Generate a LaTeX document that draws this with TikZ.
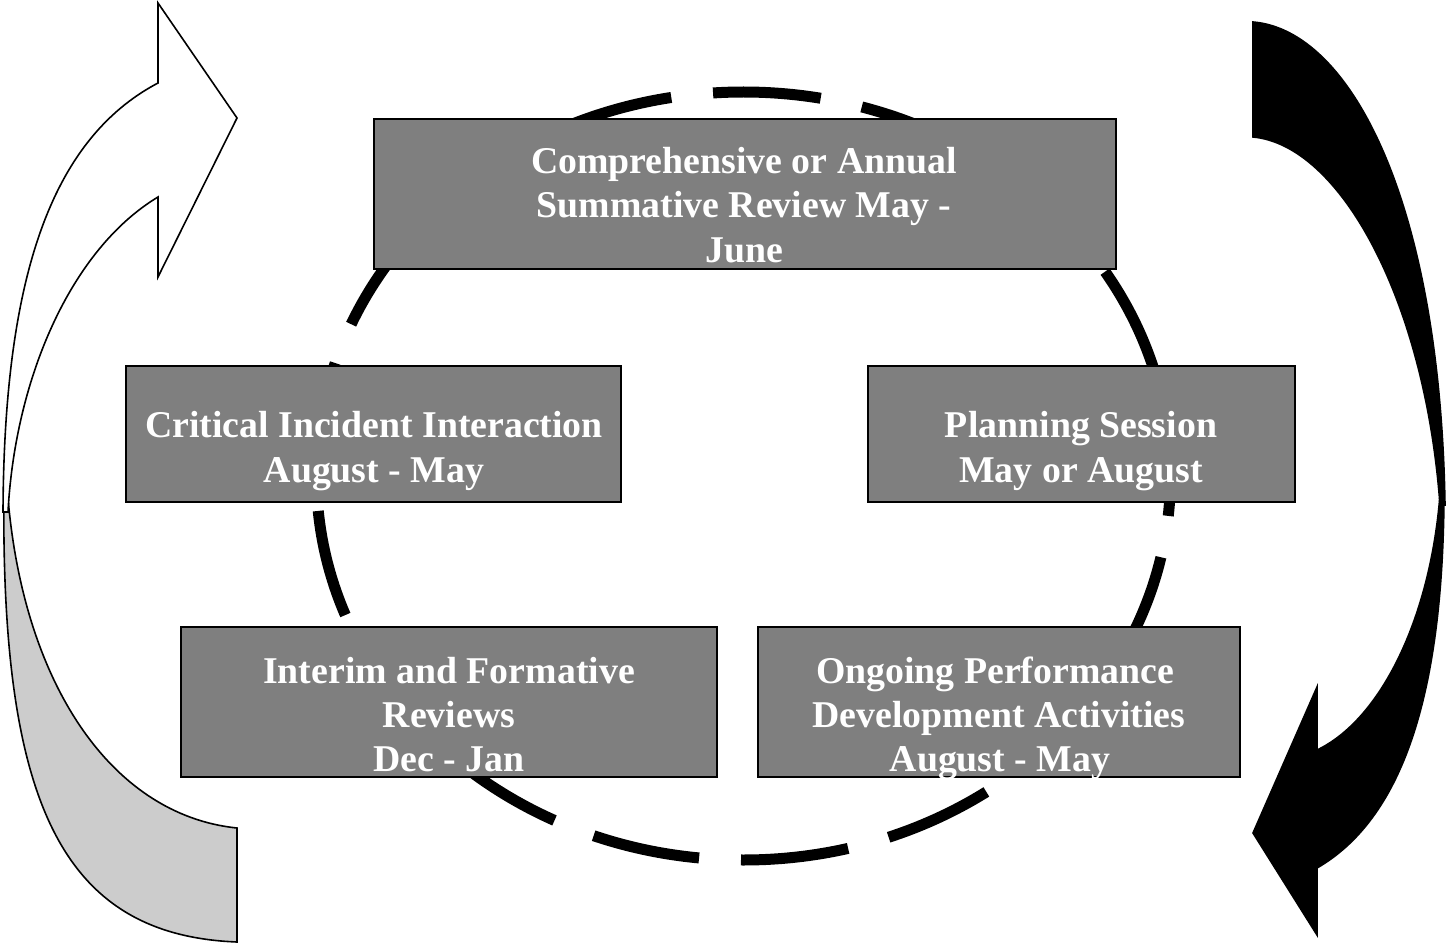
\documentclass[tikz,border=0pt]{standalone}
\usepackage{fontspec}
\setmainfont{Liberation Serif}
\definecolor{boxgray}{HTML}{7F7F7F}
\definecolor{backgray}{HTML}{CCCCCC}
\begin{document}
\begin{tikzpicture}[x=1pt, y=-1pt,
  stage/.style={draw=black, line width=2pt, fill=boxgray, inner sep=0pt, outer sep=0pt},
  lbl/.style={text=white, font=\bfseries\fontsize{37.8}{44.5}\selectfont, anchor=base, inner sep=0pt},
  cyclering/.style={line width=11pt, dash pattern=on 108pt off 42pt, dash phase=68pt},
  ribbon/.style={draw=black, line width=1.6pt, line join=miter},
]
\useasboundingbox (0,0) rectangle (1446,944);

% dashed cycle behind the stages
\draw[cyclering] (743.5,476) ellipse [x radius=427, y radius=384];

% stages of the cycle
\node[stage, minimum width=742pt, minimum height=150pt] (review)   at (745,194)   {};
\node[stage, minimum width=495pt, minimum height=136pt] (critical) at (373.5,434) {};
\node[stage, minimum width=427pt, minimum height=136pt] (planning) at (1081.5,434) {};
\node[stage, minimum width=536pt, minimum height=150pt] (interim)  at (449,702)   {};
\node[stage, minimum width=482pt, minimum height=150pt] (ongoing)  at (999,702)   {};

% stage labels, one line per node
\node[lbl] (review-a) at (744,174) {Comprehensive or Annual};
\node[lbl] (review-b) at (744,218) {Summative Review May -};
\node[lbl] (review-c) at (744,262) {June};

\node[lbl] (critical-a) at (374,437) {Critical Incident Interaction};
\node[lbl] (critical-b) at (374,482) {August - May};

\node[lbl] (planning-a) at (1081,437) {Planning Session};
\node[lbl] (planning-b) at (1081,482) {May or August};

\node[lbl] (interim-a) at (449,683) {Interim and Formative};
\node[lbl] (interim-b) at (449,727) {Reviews};
\node[lbl] (interim-c) at (449,771) {Dec - Jan};

\node[lbl] (ongoing-a) at (995,683) {Ongoing Performance};
\node[lbl] (ongoing-b) at (999,727) {Development Activities};
\node[lbl] (ongoing-c) at (1000,771) {August - May};

% left curved arrow: shaded back side of the ribbon
\draw[ribbon, fill=backgray]
  (4,485) .. controls (0,800) and (60,935) .. (237,942)
  -- (237,828)
  .. controls (110,815) and (20,680) .. (7,485) -- cycle;

% left curved arrow: front side with arrowhead
\draw[ribbon, fill=white]
  (3,512) .. controls (4,280) and (50,140) .. (158,83)
  -- (158,3) -- (237,118) -- (158,277) -- (158,197)
  .. controls (70,250) and (15,380) .. (8,512) -- cycle;

% right curved arrow: upper band
\draw[ribbon, fill=black]
  (1253,22) .. controls (1350,30) and (1440,200) .. (1445,505)
  -- (1440,505)
  .. controls (1425,300) and (1340,145) .. (1253,137) -- cycle;

% right curved arrow: lower band with arrowhead
\draw[ribbon, fill=black]
  (1444,480) .. controls (1445,700) and (1400,820) .. (1317,868)
  -- (1317,935) -- (1253,833) -- (1317,687) -- (1317,750)
  .. controls (1380,720) and (1430,620) .. (1440,495) -- cycle;
\end{tikzpicture}
\end{document}
